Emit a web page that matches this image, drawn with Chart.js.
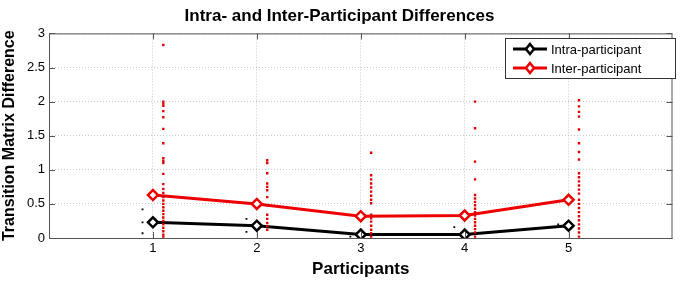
<!DOCTYPE html>
<html>
<head>
<meta charset="utf-8">
<script src="https://cdn.jsdelivr.net/npm/chart.js@4.4.1/dist/chart.umd.min.js"></script>
<style>
    html, body { margin: 0; padding: 0; background: #fff; }
    #wrap { width: 680px; height: 281px; }
</style>
</head>
<body>
<div id="wrap"><canvas id="myChart"></canvas></div>
<script>
const participants = [1, 2, 3, 4, 5];
const intraMean = [0.23, 0.18, 0.05, 0.05, 0.18];
const interMean = [0.63, 0.50, 0.32, 0.33, 0.56];

// individual differences, one list per participant
const intraValues = [
    [0.42, 0.23, 0.07],
    [0.28, 0.09],
    [0.02],
    [0.16],
    [0.20]
];
const interValues = [
    [2.83, 2.00, 1.97, 1.94, 1.86, 1.77, 1.60, 1.39, 1.17, 1.13, 1.10, 0.94, 0.79, 0.72, 0.66, 0.60, 0.55, 0.50, 0.45, 0.40, 0.35, 0.30, 0.25, 0.20, 0.15, 0.10, 0.05, 0.02],
    [1.14, 1.10, 0.95, 0.80, 0.75, 0.70, 0.60, 0.48, 0.34, 0.28, 0.22, 0.17, 0.12],
    [1.25, 0.92, 0.86, 0.80, 0.74, 0.68, 0.62, 0.56, 0.51, 0.34, 0.29, 0.24, 0.18, 0.12, 0.07, 0.02],
    [2.00, 1.61, 1.12, 0.86, 0.63, 0.58, 0.53, 0.48, 0.43, 0.38, 0.33, 0.28, 0.23, 0.18, 0.13, 0.08, 0.02],
    [2.02, 1.93, 1.85, 1.78, 1.59, 1.39, 1.26, 1.15, 0.95, 0.89, 0.83, 0.77, 0.71, 0.65, 0.56, 0.50, 0.44, 0.38, 0.32, 0.26, 0.20, 0.14, 0.08, 0.02]
];
const xTicks = [1, 2, 3, 4, 5];
const yTicks = [0, 0.5, 1, 1.5, 2, 2.5, 3];

const FONT = '"Liberation Sans", Arial, sans-serif';

function spread(values, offset) {
    var pts = [];
    values.forEach(function (list, i) {
        list.forEach(function (v) {
            pts.push({ x: participants[i] + offset, y: v });
        });
    });
    return pts;
}

const boxPlugin = {
    id: 'box',
    afterDraw: function (chart) {
        var ctx = chart.ctx;
        var a = chart.chartArea;
        var xs = chart.scales.x, ys = chart.scales.y;
        ctx.save();
        ctx.strokeStyle = '#555';
        ctx.lineWidth = 1;
        ctx.strokeRect(a.left + 0.5, a.top + 0.5, a.right - a.left - 1, a.bottom - a.top);
        // inward ticks
        ctx.beginPath();
        xTicks.forEach(function (t) {
            var px = Math.round(xs.getPixelForValue(t)) + 0.5;
            ctx.moveTo(px, a.bottom); ctx.lineTo(px, a.bottom - 6);
            ctx.moveTo(px, a.top); ctx.lineTo(px, a.top + 6);
        });
        yTicks.forEach(function (t) {
            var py = Math.round(ys.getPixelForValue(t)) + 0.5;
            ctx.moveTo(a.left, py); ctx.lineTo(a.left + 6, py);
            ctx.moveTo(a.right, py); ctx.lineTo(a.right - 6, py);
        });
        ctx.stroke();

        // legend box
        var lx = 505, ly = 38, lw = 170, lh = 40;
        ctx.fillStyle = '#fff';
        ctx.fillRect(lx, ly, lw, lh);
        ctx.strokeStyle = '#333';
        ctx.strokeRect(lx + 0.5, ly + 0.5, lw, lh);
        var items = [chart.data.datasets[2], chart.data.datasets[3]];
        items.forEach(function (ds, i) {
            var y = ly + 11 + i * 19;
            ctx.strokeStyle = ds.borderColor;
            ctx.lineWidth = 3;
            ctx.beginPath();
            ctx.moveTo(lx + 8, y); ctx.lineTo(lx + 42, y);
            ctx.stroke();
            ctx.lineWidth = 2.5;
            ctx.fillStyle = '#fff';
            ctx.beginPath();
            ctx.moveTo(lx + 25, y - 5); ctx.lineTo(lx + 29, y);
            ctx.lineTo(lx + 25, y + 5); ctx.lineTo(lx + 21, y);
            ctx.closePath();
            ctx.fill(); ctx.stroke();
            ctx.fillStyle = '#000';
            ctx.font = '13px ' + FONT;
            ctx.textBaseline = 'middle';
            ctx.fillText(ds.label, lx + 46, y + 1);
        });
        ctx.restore();
    }
};

const data = {
    datasets: [{
        label: 'intra points',
        data: spread(intraValues, -0.1),
        backgroundColor: '#000',
        borderColor: '#000',
        pointStyle: 'rect',
        pointRadius: 1.3,
        borderWidth: 0,
        showLine: false
    }, {
        label: 'inter points',
        data: spread(interValues, 0.1),
        backgroundColor: '#e00000',
        borderColor: '#e00000',
        pointStyle: 'rect',
        pointRadius: 1.7,
        borderWidth: 0,
        showLine: false
    }, {
        label: 'Intra-participant',
        data: participants.map(function (p, i) { return { x: p, y: intraMean[i] }; }),
        borderColor: '#000',
        backgroundColor: '#fff',
        borderWidth: 3,
        pointStyle: 'rectRot',
        pointRadius: 5,
        pointBorderWidth: 2.5,
        showLine: true
    }, {
        label: 'Inter-participant',
        data: participants.map(function (p, i) { return { x: p, y: interMean[i] }; }),
        borderColor: '#ee0000',
        backgroundColor: '#fff',
        borderWidth: 3,
        pointStyle: 'rectRot',
        pointRadius: 5,
        pointBorderWidth: 2.5,
        showLine: true
    }]
};

const config = {
    type: 'scatter',
    data: data,
    plugins: [boxPlugin],
    options: {
        responsive: true,
        maintainAspectRatio: false,
        animation: false,
        layout: { padding: { left: 0, right: 1, top: 0, bottom: 0 } },
        plugins: {
            legend: { display: false },
            tooltip: { enabled: false },
            title: {
                display: true,
                text: 'Intra- and Inter-Participant Differences',
                color: '#000',
                font: { family: FONT, size: 17, weight: 'bold' },
                padding: { top: 6, bottom: 7 }
            }
        },
        scales: {
            x: {
                type: 'linear',
                min: 0,
                max: 6,
                afterBuildTicks: function (s) { s.ticks = xTicks.map(function (v) { return { value: v }; }); },
                ticks: { color: '#000', font: { family: FONT, size: 13 }, padding: 3 },
                grid: { color: '#c8c8c8', drawTicks: false },
                border: { display: false, dash: [1, 2] },
                title: {
                    display: true,
                    text: 'Participants',
                    color: '#000',
                    font: { family: FONT, size: 17, weight: 'bold' },
                    padding: { top: 0, bottom: 1 }
                },
                afterFit: function (s) { s.height = 43; }
            },
            y: {
                min: 0,
                max: 3,
                afterBuildTicks: function (s) { s.ticks = yTicks.map(function (v) { return { value: v }; }); },
                ticks: {
                    color: '#000',
                    font: { family: FONT, size: 13 },
                    padding: 4,
                    callback: function (v) { return String(v); }
                },
                grid: { color: '#c8c8c8', drawTicks: false },
                border: { display: false, dash: [1, 2] },
                title: {
                    display: true,
                    text: 'Transition Matrix Difference',
                    color: '#000',
                    font: { family: FONT, size: 16, weight: 'bold' },
                    padding: { top: 0, bottom: 0 }
                },
                afterFit: function (s) { s.width = 49; }
            }
        }
    }
};

var myChart = new Chart(document.getElementById('myChart'), config);
</script>
</body>
</html>
